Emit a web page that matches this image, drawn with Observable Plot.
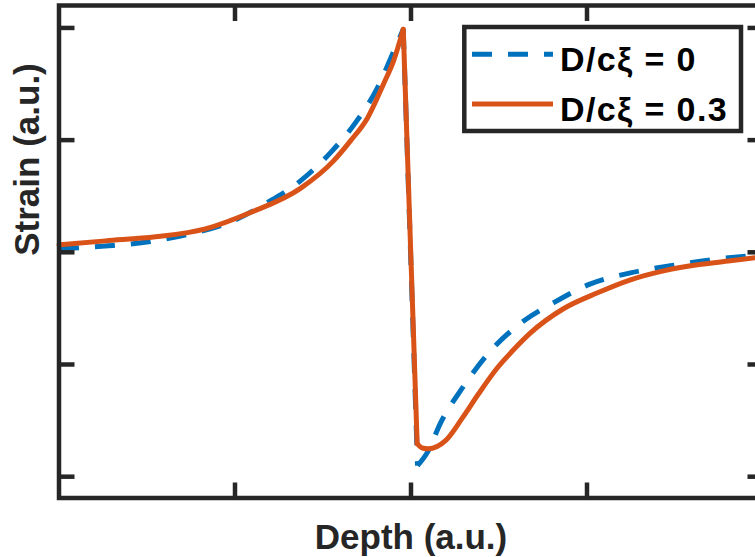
<!DOCTYPE html>
<html><head><meta charset="utf-8">
<script src="https://cdn.jsdelivr.net/npm/d3@7"></script>
<script src="https://cdn.jsdelivr.net/npm/@observablehq/plot@0.6"></script>
<style>
body{margin:0;background:#fff;}
#chart{width:755px;height:557px;overflow:hidden;position:relative;}
#chart svg{overflow:hidden;}
</style></head><body><div id="chart"></div>
<script>
const seriesNames = ["D/c\u03BE = 0", "D/c\u03BE = 0.3"];
const seriesColors = ["#0072BD", "#D95319"];
const depth0 = [0, 0.281, 0.520, 0.747, 0.974, 1.185, 1.372, 1.543, 1.685, 1.810, 1.895, 1.956, 2.037, 2.099, 2.162, 2.293, 2.440, 2.622, 2.810, 3.020, 3.247, 3.474, 3.702, 3.929, 4.0];
const strain0 = [0.031, 0.058, 0.096, 0.165, 0.270, 0.444, 0.637, 0.889, 1.156, 1.468, 1.768, 1.988, -1.902, -1.768, -1.540, -1.207, -0.900, -0.633, -0.450, -0.281, -0.183, -0.120, -0.067, -0.031, -0.022];
const depth03 = [0, 0.264, 0.548, 0.832, 1.088, 1.372, 1.560, 1.656, 1.753, 1.844, 1.901, 1.956, 2.035, 2.064, 2.099, 2.196, 2.293, 2.384, 2.491, 2.577, 2.679, 2.866, 3.060, 3.247, 3.435, 3.628, 3.815, 4.0];
const strain03 = [0.067, 0.102, 0.138, 0.209, 0.355, 0.570, 0.815, 0.993, 1.198, 1.501, 1.706, 1.988, -1.706, -1.744, -1.751, -1.679, -1.474, -1.261, -1.029, -0.878, -0.718, -0.503, -0.361, -0.245, -0.165, -0.111, -0.076, -0.040];
const xTicks = [1, 2, 3];
const yTicks = [-2, -1, 0, 1, 2];
const xLabel = "Depth (a.u.)";
const yLabel = "Strain (a.u.)";

// split each series into rise / drop / recovery pieces (at the peak and the point after it)
function pieces(xs, ys) {
  const iMax = ys.indexOf(Math.max(...ys));
  const rows = [];
  xs.forEach((x, i) => {
    if (i <= iMax) rows.push({x, y: ys[i], seg: "rise"});
    if (i === iMax || i === iMax + 1) rows.push({x, y: ys[i], seg: "drop"});
    if (i >= iMax + 1) rows.push({x, y: ys[i], seg: "rec"});
  });
  return rows;
}
const data0 = pieces(depth0, strain0);
const data03 = pieces(depth03, strain03);
const axisColor = "#262626";
const font = "'Liberation Sans', Arial, Helvetica, sans-serif";
const noText = () => "";
const axOpts = {tickFormat: noText, label: null, stroke: axisColor, strokeWidth: 4.5, fontSize: 1};

const plot = Plot.plot({
  width: 755, height: 557,
  marginLeft: 58.5, marginRight: -7.5, marginTop: 5, marginBottom: 59.5,
  style: {fontFamily: font, overflow: "hidden", background: "#fff"},
  x: {domain: [0, 4]},
  y: {domain: [-2.19, 2.2]},
  marks: [
    Plot.line(data0, {x: "x", y: "y", z: "seg", curve: "monotone-x", stroke: seriesColors[0], strokeWidth: 5, strokeDasharray: "20,16", strokeLinecap: "butt", strokeLinejoin: "round"}),
    Plot.line(data03, {x: "x", y: "y", z: "seg", curve: "monotone-x", stroke: seriesColors[1], strokeWidth: 5, strokeLinejoin: "round"}),
    Plot.frame({stroke: axisColor, strokeWidth: 4.5}),
    Plot.axisX(xTicks, {anchor: "bottom", tickSize: -15, ...axOpts}),
    Plot.axisX(xTicks, {anchor: "top", tickSize: -15, ...axOpts}),
    Plot.axisY(yTicks, {anchor: "left", tickSize: -16, ...axOpts}),
    Plot.axisY(yTicks, {anchor: "right", tickSize: -16, ...axOpts}),
    Plot.text([xLabel], {frameAnchor: "bottom", dx: 0, dy: 50.5, lineAnchor: "bottom", fontSize: 35, fontWeight: "bold", fill: axisColor, fontFamily: font}),
    Plot.text([yLabel], {frameAnchor: "left", rotate: -90, dx: -20.5, dy: 4, lineAnchor: "bottom", fontSize: 35, fontWeight: "bold", fill: axisColor, fontFamily: font})
  ]
});
document.getElementById("chart").appendChild(plot);

// legend
const svg = d3.select(plot);
const lg = svg.append("g").attr("class", "legend").attr("text-anchor", "start");
lg.append("rect").attr("x", 464.3).attr("y", 27).attr("width", 276.7).attr("height", 104)
  .attr("fill", "#fff").attr("stroke", axisColor).attr("stroke-width", 4.5);
const rowsY = [54.3, 104];
seriesNames.forEach((name, i) => {
  lg.append("line").attr("x1", 472).attr("x2", 553).attr("y1", rowsY[i]).attr("y2", rowsY[i])
    .attr("stroke", seriesColors[i]).attr("stroke-width", 5)
    .attr("stroke-dasharray", i === 0 ? "20,16" : null);
  lg.append("text").attr("x", 560).attr("y", rowsY[i] + 17)
    .attr("text-anchor", "start").attr("letter-spacing", 1.4)
    .attr("font-family", font).attr("font-weight", "bold").attr("font-size", 34)
    .attr("fill", "#000").text(name);
});
</script></body></html>
